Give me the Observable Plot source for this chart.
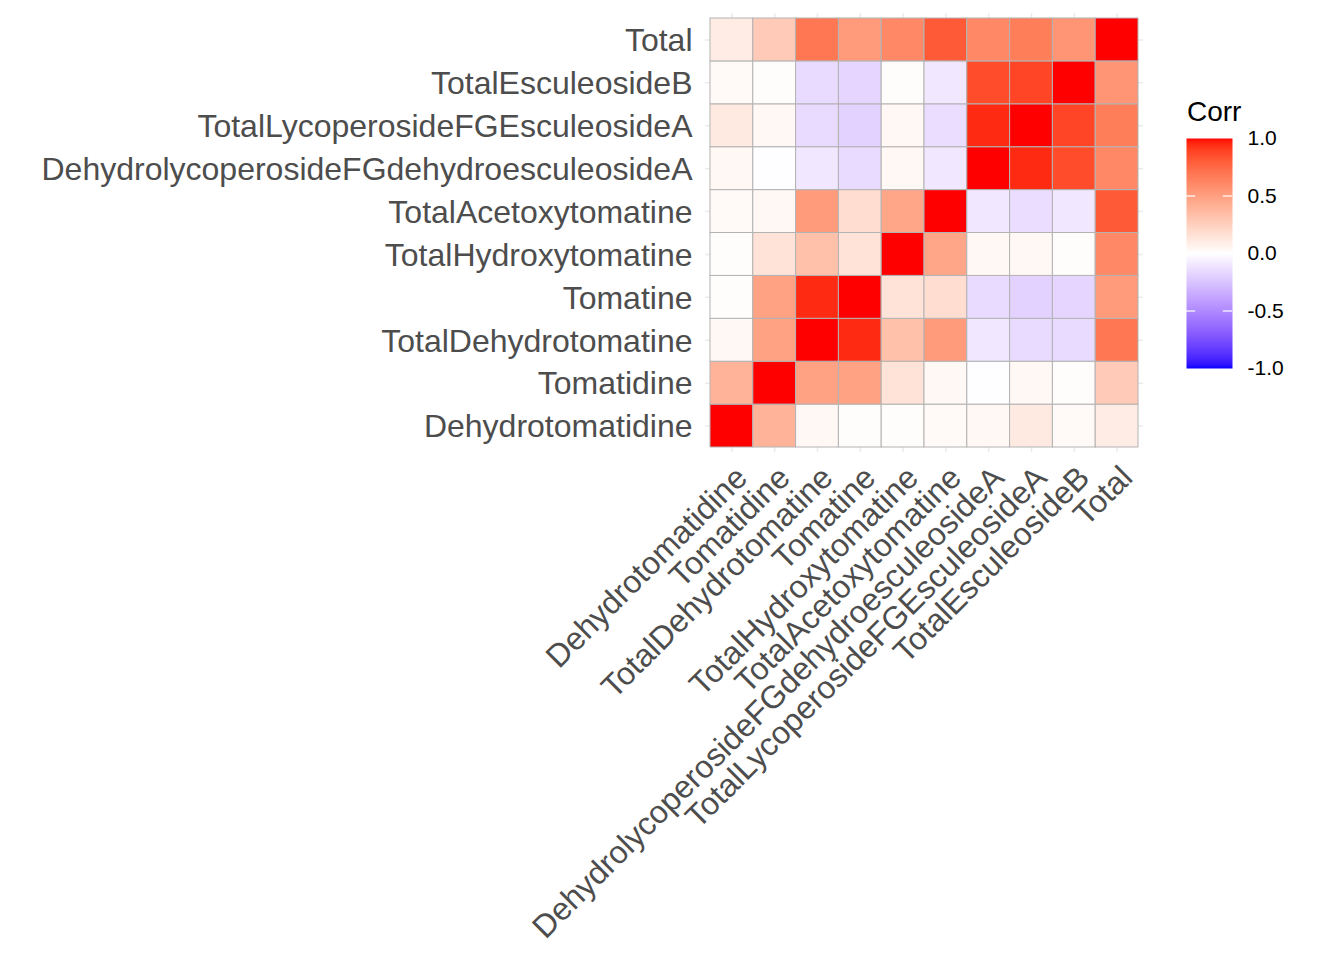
<!DOCTYPE html>
<html><head><meta charset="utf-8">
<script src="https://cdn.jsdelivr.net/npm/d3@7"></script>
<script src="https://cdn.jsdelivr.net/npm/@observablehq/plot@0.6"></script>
<style>
body{margin:0;background:#fff;font-family:"Liberation Sans",Arial,sans-serif}
#wrap{position:relative;width:1344px;height:960px;overflow:hidden}
#main{position:absolute;left:0;top:0}
#legtitle{position:absolute;left:1187px;top:98px;font-size:28px;line-height:1;color:#000}
#legend{position:absolute;left:1186px;top:123px}
</style>
</head><body><div id="wrap"><div id="main"></div><div id="legtitle">Corr</div><div id="legend"></div></div>
<script>
// variable order (x axis left→right; y axis bottom→top)
const variables = ["Dehydrotomatidine","Tomatidine","TotalDehydrotomatine","Tomatine","TotalHydroxytomatine","TotalAcetoxytomatine","DehydrolycoperosideFGdehydroesculeosideA","TotalLycoperosideFGEsculeosideA","TotalEsculeosideB","Total"];
// correlation rows, in the same column order as `variables`
const rowDehydrotomatidine    = [1.00, 0.40, 0.04, 0.01, 0.01, 0.03, 0.04, 0.11, 0.03, 0.10];
const rowTomatidine           = [0.40, 1.00, 0.49, 0.49, 0.15, 0.04, -0.01, 0.04, 0.01, 0.28];
const rowTotalDehydrotomatine = [0.04, 0.49, 1.00, 0.95, 0.33, 0.52, -0.10, -0.15, -0.15, 0.69];
const rowTomatine             = [0.01, 0.49, 0.95, 1.00, 0.15, 0.18, -0.15, -0.19, -0.17, 0.52];
const rowTotalHydroxytomatine = [0.01, 0.15, 0.33, 0.15, 1.00, 0.47, 0.04, 0.04, 0.01, 0.61];
const rowTotalAcetoxytomatine = [0.03, 0.04, 0.52, 0.18, 0.47, 1.00, -0.10, -0.14, -0.10, 0.81];
const rowDehydrolycoperoside  = [0.04, -0.01, -0.10, -0.15, 0.04, -0.10, 1.00, 0.95, 0.86, 0.61];
const rowTotalLycoperoside    = [0.11, 0.04, -0.15, -0.19, 0.04, -0.14, 0.95, 1.00, 0.88, 0.66];
const rowTotalEsculeosideB    = [0.03, 0.01, -0.15, -0.17, 0.01, -0.10, 0.86, 0.88, 1.00, 0.55];
const rowTotal                = [0.10, 0.28, 0.69, 0.52, 0.61, 0.81, 0.61, 0.66, 0.55, 1.00];
const legendBreaks = [-1, -0.5, 0, 0.5, 1];

const rows = [rowDehydrotomatidine,rowTomatidine,rowTotalDehydrotomatine,rowTomatine,rowTotalHydroxytomatine,rowTotalAcetoxytomatine,rowDehydrolycoperoside,rowTotalLycoperoside,rowTotalEsculeosideB,rowTotal];
const cells = variables.flatMap((yName, i) => rows[i].map((v, j) => ({x: variables[j], y: yName, corr: v})));

const colorScale = {type: "linear", domain: [-1, 0, 1], range: ["blue", "white", "red"], interpolate: "lab"};
const font = "Liberation Sans, Arial, Helvetica, sans-serif";

const main = Plot.plot({
  width: 1344, height: 960,
  marginLeft: 710, marginRight: 206, marginTop: 18, marginBottom: 513,
  style: {color: "#4D4D4D", fontFamily: font, background: "transparent", overflow: "visible"},
  x: {domain: variables, padding: 0, round: false, label: null, axis: null},
  y: {domain: variables.slice().reverse(), padding: 0, round: false, label: null, axis: null},
  color: colorScale,
  marks: [
    Plot.gridX({stroke: "#EBEBEB", strokeOpacity: 1, strokeWidth: 1.5, insetTop: -5, insetBottom: -5}),
    Plot.gridY({stroke: "#EBEBEB", strokeOpacity: 1, strokeWidth: 1.5, insetLeft: -5, insetRight: -5}),
    Plot.cell(cells, {x: "x", y: "y", fill: "corr", stroke: "#B3B3B3", strokeWidth: 1, inset: 0}),
    Plot.axisY({tickSize: 0, tickPadding: 18, fontSize: 32, dy: 1, label: null, fill: "#4D4D4D"}),
    Plot.text(variables, {x: d => d, frameAnchor: "bottom", dx: 1, dy: 16, rotate: -45, textAnchor: "end", lineAnchor: "top", fontSize: 32, fill: "#4D4D4D"})
  ]
});
document.getElementById("main").appendChild(main);

const legend = Plot.plot({
  width: 120, height: 260,
  marginLeft: 0, marginRight: 74, marginTop: 15, marginBottom: 15,
  style: {color: "#000", fontFamily: font, background: "transparent", overflow: "visible"},
  x: {domain: [0, 1], axis: null},
  y: {domain: [-1, 1], axis: null},
  color: colorScale,
  marks: [
    Plot.raster({fill: (x, y) => y, x1: 0, x2: 1, y1: -1, y2: 1, pixelSize: 1}),
    Plot.ruleY(legendBreaks.slice(1, -1), {y: d => d, x1: 0, x2: 0.2, stroke: "white", strokeWidth: 1.2}),
    Plot.ruleY(legendBreaks.slice(1, -1), {y: d => d, x1: 0.8, x2: 1, stroke: "white", strokeWidth: 1.2}),
    Plot.axisY({anchor: "right", ticks: legendBreaks, tickSize: 0, tickPadding: 15, fontSize: 21, tickFormat: d => d.toFixed(1), label: null, fill: "#000"})
  ]
});
document.getElementById("legend").appendChild(legend);
</script>
</body></html>
